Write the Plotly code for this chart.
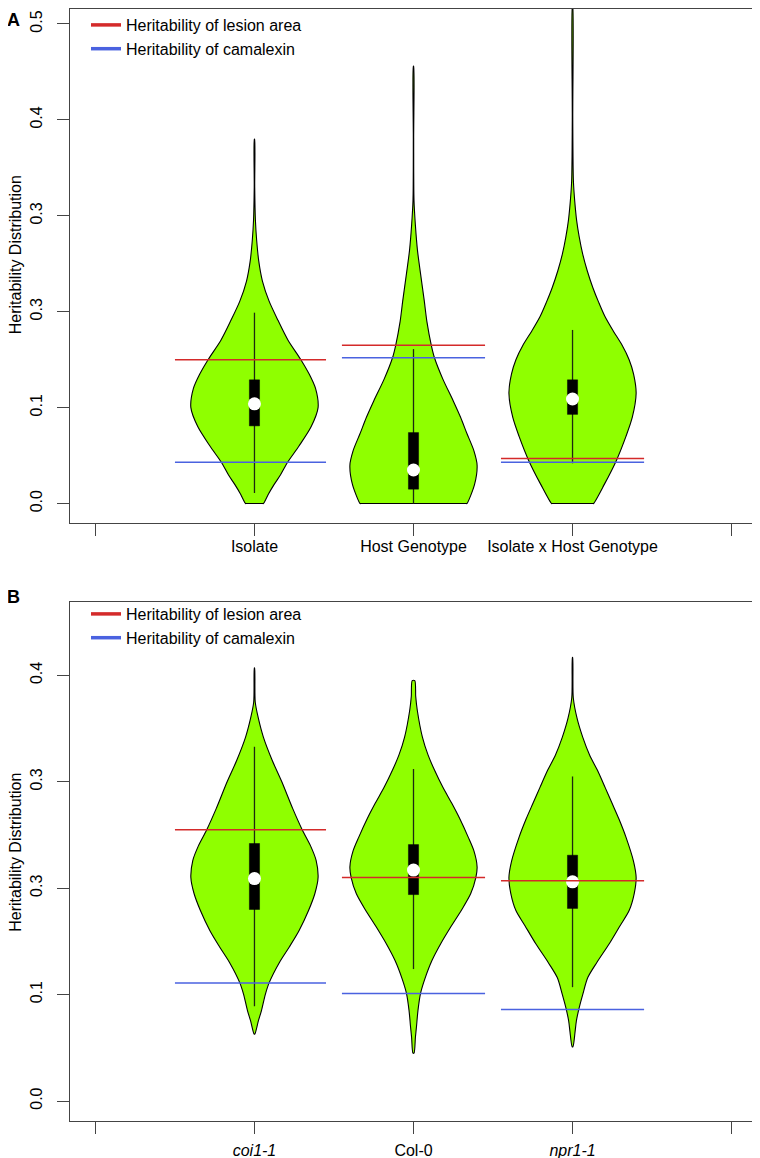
import plotly.graph_objects as go

# ---- panel A : variance components ----
cats_a = ["Isolate", "Host Genotype", "Isolate x Host Genotype"]

# violin outlines: heritability value and relative density (1 = widest)
iso_y = [0.0, 0.01, 0.02, 0.03, 0.043, 0.06, 0.08, 0.1, 0.12, 0.135, 0.151, 0.17, 0.191, 0.211, 0.232, 0.253, 0.274, 0.295, 0.33, 0.38]
iso_d = [0.14, 0.22, 0.31, 0.41, 0.52, 0.70, 0.89, 1.0, 0.96, 0.86, 0.72, 0.53, 0.37, 0.23, 0.125, 0.067, 0.035, 0.015, 0.004, 0.002]
host_y = [0.0, 0.02, 0.04, 0.055, 0.073, 0.09, 0.107, 0.13, 0.152, 0.165, 0.19, 0.211, 0.24, 0.264, 0.29, 0.316, 0.38, 0.456]
host_d = [0.84, 0.96, 1.0, 0.95, 0.84, 0.74, 0.625, 0.46, 0.33, 0.28, 0.21, 0.17, 0.11, 0.0625, 0.03, 0.008, 0.003, 0.002]
ixh_y = [0.0, 0.02, 0.045, 0.07, 0.09, 0.115, 0.135, 0.15, 0.165, 0.18, 0.195, 0.21, 0.225, 0.243, 0.26, 0.278, 0.295, 0.315, 0.336, 0.4, 0.52]
ixh_d = [0.33, 0.5, 0.69, 0.84, 0.94, 1.0, 0.96, 0.89, 0.78, 0.64, 0.51, 0.41, 0.32, 0.23, 0.16, 0.105, 0.065, 0.035, 0.014, 0.004, 0.002]

# box stats: whisker low, q1, median, q3, whisker high
box_a = [
    [0.011, 0.081, 0.104, 0.129, 0.199],
    [0.0, 0.015, 0.035, 0.074, 0.161],
    [0.042, 0.093, 0.109, 0.129, 0.181],
]
lesion_a = [0.150, 0.165, 0.047]
camalexin_a = [0.043, 0.152, 0.043]

# ---- panel B : host genotypes ----
cats_b = ["<i>coi1-1</i>", "Col-0", "<i>npr1-1</i>"]

coi_y = [0.063, 0.075, 0.085, 0.1, 0.111, 0.13, 0.145, 0.16, 0.179, 0.195, 0.21, 0.226, 0.24, 0.255, 0.275, 0.3, 0.32, 0.342, 0.36, 0.375, 0.407]
coi_d = [0.006, 0.06, 0.11, 0.17, 0.23, 0.39, 0.55, 0.70, 0.85, 0.95, 1.0, 0.97, 0.88, 0.75, 0.60, 0.43, 0.28, 0.14, 0.06, 0.012, 0.002]
col_y = [0.045, 0.06, 0.07, 0.085, 0.101, 0.115, 0.132, 0.148, 0.163, 0.18, 0.195, 0.21, 0.22, 0.235, 0.248, 0.265, 0.28, 0.295, 0.311, 0.325, 0.342, 0.367, 0.38, 0.395]
col_d = [0.008, 0.03, 0.047, 0.07, 0.11, 0.18, 0.29, 0.43, 0.58, 0.76, 0.90, 0.98, 1.0, 0.95, 0.86, 0.73, 0.60, 0.46, 0.33, 0.23, 0.14, 0.06, 0.035, 0.02]
npr_y = [0.051, 0.065, 0.075, 0.085, 0.1, 0.116, 0.13, 0.148, 0.165, 0.179, 0.195, 0.21, 0.225, 0.248, 0.265, 0.28, 0.295, 0.311, 0.325, 0.342, 0.36, 0.379, 0.417]
npr_d = [0.006, 0.04, 0.06, 0.094, 0.16, 0.24, 0.38, 0.58, 0.75, 0.89, 0.97, 1.0, 0.96, 0.84, 0.73, 0.62, 0.51, 0.39, 0.27, 0.16, 0.07, 0.012, 0.002]

box_b = [
    [0.089, 0.180, 0.209, 0.242, 0.333],
    [0.124, 0.194, 0.217, 0.241, 0.312],
    [0.107, 0.181, 0.206, 0.231, 0.305],
]
lesion_b = [0.255, 0.210, 0.207]
camalexin_b = [0.111, 0.101, 0.086]

ytick_vals_a = [0.0, 0.1, 0.2, 0.3, 0.4, 0.5]
ytick_text_a = ["0.0", "0.1", "0.3", "0.3", "0.4", "0.5"]
ytick_vals_b = [0.0, 0.1, 0.2, 0.3, 0.4]
ytick_text_b = ["0.0", "0.1", "0.3", "0.3", "0.4"]

GREEN = "#8FFF00"
RED = "#D42A2A"
BLUE = "#4A62E0"
HALF = 0.4          # widest half-width of a violin, in category units
BOXHALF = 0.032
seg_left = [0.5, 0.45, 0.45]
seg_right = [0.45, 0.45, 0.45]

fig = go.Figure()


def add_panel(xa, ya, profiles, boxes, lesion, camalexin, legend):
    for i, (vy, vd) in enumerate(profiles):
        c = i + 1
        right = [(c + HALF * d, y) for y, d in zip(vy, vd)]
        left = [(c - HALF * d, y) for y, d in zip(vy, vd)][::-1]
        pts = right + left
        if vd[0] > 0.05:
            # flat bottom: pin the corners so the spline does not overshoot
            w = HALF * vd[0]
            pts = [(c + w - 0.004, vy[0])] + pts + [(c - w + 0.004, vy[0])]
        pts.append(pts[0])
        fig.add_trace(go.Scatter(
            x=[p[0] for p in pts], y=[p[1] for p in pts], xaxis=xa, yaxis=ya,
            mode="lines", fill="toself", fillcolor=GREEN,
            line=dict(color="black", width=1.1, shape="spline", smoothing=0.8),
            showlegend=False, hoverinfo="skip"))
    for i, b in enumerate(boxes):
        c = i + 1
        fig.add_trace(go.Scatter(
            x=[c, c], y=[b[0], b[4]], xaxis=xa, yaxis=ya, mode="lines",
            line=dict(color="#1c2a10", width=1.3), showlegend=False, hoverinfo="skip"))
        fig.add_trace(go.Scatter(
            x=[c - BOXHALF, c + BOXHALF, c + BOXHALF, c - BOXHALF, c - BOXHALF],
            y=[b[1], b[1], b[3], b[3], b[1]], xaxis=xa, yaxis=ya,
            mode="lines", fill="toself", fillcolor="black",
            line=dict(color="black", width=0.5), showlegend=False, hoverinfo="skip"))
        fig.add_trace(go.Scatter(
            x=[c], y=[b[2]], xaxis=xa, yaxis=ya, mode="markers",
            marker=dict(color="white", size=13), showlegend=False, hoverinfo="skip"))
    for vals, col in ((lesion, RED), (camalexin, BLUE)):
        xs, ys = [], []
        for i, v in enumerate(vals):
            c = i + 1
            xs += [c - seg_left[i], c + seg_right[i], None]
            ys += [v, v, None]
        fig.add_trace(go.Scatter(
            x=xs, y=ys, xaxis=xa, yaxis=ya, mode="lines",
            line=dict(color=col, width=1.5), showlegend=False, hoverinfo="skip"))
    # legend entries
    for name, col in (("Heritability of lesion area", RED), ("Heritability of camalexin", BLUE)):
        fig.add_trace(go.Scatter(
            x=[None], y=[None], xaxis=xa, yaxis=ya, mode="lines", name=name,
            line=dict(color=col, width=3.5), legend=legend))


add_panel("x", "y", [(iso_y, iso_d), (host_y, host_d), (ixh_y, ixh_d)],
          box_a, lesion_a, camalexin_a, "legend")
add_panel("x2", "y2", [(coi_y, coi_d), (col_y, col_d), (npr_y, npr_d)],
          box_b, lesion_b, camalexin_b, "legend2")

# the page adds an 8px body margin, so the figure is 8px smaller on each side
W, H = 752, 1150
axis_line = dict(showline=True, linecolor="#444444", linewidth=1.3, mirror=True,
                 ticks="outside", ticklen=12, tickcolor="#444444", tickwidth=1.3,
                 showgrid=False, zeroline=False, automargin=False,
                 tickfont=dict(size=16, color="black"))

xdom = [62 / W, 749 / W]
fig.update_layout(
    width=W, height=H, margin=dict(l=0, r=0, t=0, b=0),
    paper_bgcolor="white", plot_bgcolor="white",
    font=dict(family="Liberation Sans, Arial, sans-serif", size=16, color="black"),
    xaxis=dict(domain=xdom, range=[-0.16, 4.16], tickvals=[0, 1, 2, 3, 4],
               ticktext=[""] + cats_a + [""], anchor="y", ticklabelstandoff=-3, **axis_line),
    yaxis=dict(domain=[1 - 514 / H, 1], range=[-0.0198, 0.5156],
               tickvals=ytick_vals_a, ticktext=ytick_text_a, tickangle=-90,
               anchor="x", ticklabelstandoff=8, **axis_line),
    xaxis2=dict(domain=xdom, range=[-0.16, 4.16], tickvals=[0, 1, 2, 3, 4],
                ticktext=[""] + cats_b + [""], anchor="y2", ticklabelstandoff=3, **axis_line),
    yaxis2=dict(domain=[1 - 1113 / H, 1 - 594 / H], range=[-0.0188, 0.4685],
                tickvals=ytick_vals_b, ticktext=ytick_text_b, tickangle=-90,
                anchor="x2", ticklabelstandoff=8, **axis_line),
    legend=dict(x=78 / W, y=1 + 1 / H, xanchor="left", yanchor="top",
                bgcolor="rgba(0,0,0,0)", font=dict(size=16), tracegroupgap=0),
    legend2=dict(x=78 / W, y=1 - 589 / H, xanchor="left", yanchor="top",
                 bgcolor="rgba(0,0,0,0)", font=dict(size=16), tracegroupgap=0),
    showlegend=True,
)

for label, ypx in (("A", 0), ("B", 578)):
    fig.add_annotation(text="<b>%s</b>" % label, x=-2 / W, y=1 - ypx / H,
                       xref="paper", yref="paper", xanchor="left", yanchor="top",
                       showarrow=False, font=dict(size=18), borderpad=0)
for ypx in (246, 844):
    fig.add_annotation(text="Heritability Distribution", x=-2 / W, y=1 - ypx / H,
                       xref="paper", yref="paper", xanchor="left", yanchor="middle",
                       textangle=-90, showarrow=False, font=dict(size=16), borderpad=0)

fig.write_html("out.html")
